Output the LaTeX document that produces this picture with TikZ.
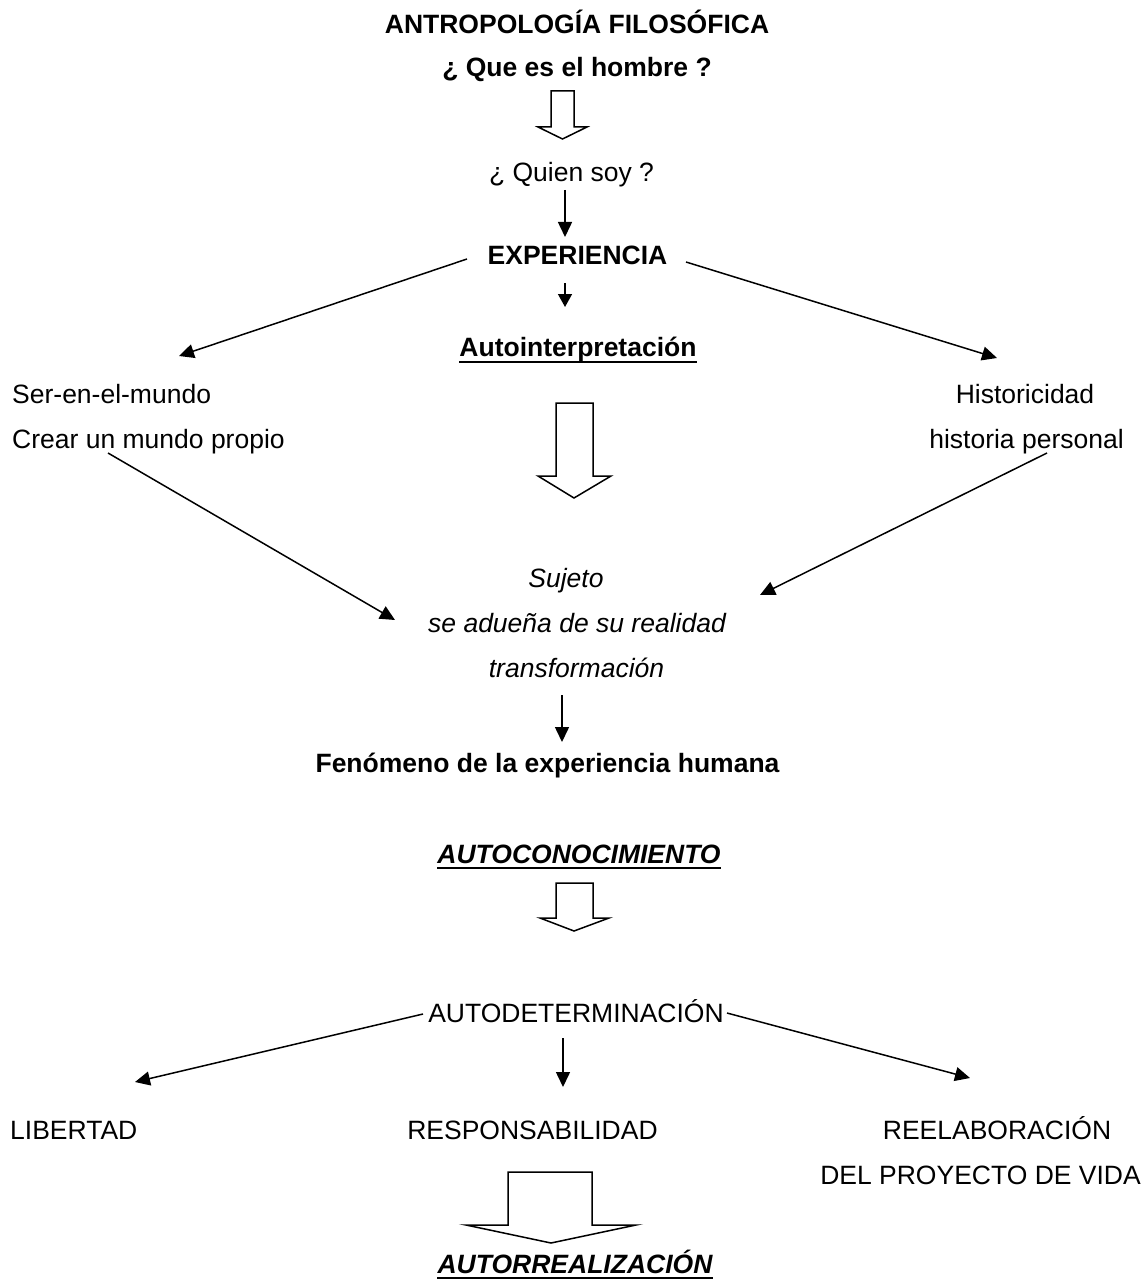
\documentclass[tikz,border=0pt]{standalone}
\usepackage{fontspec}
\setmainfont{Liberation Sans}
\usetikzlibrary{arrows.meta}
\begin{document}
\begin{tikzpicture}[x=1pt,y=-1pt,
  txt/.style={inner sep=0pt,anchor=base,font=\fontsize{26.5}{30}\selectfont},
  btxt/.style={txt,font=\fontsize{26.5}{30}\selectfont\bfseries},
  itxt/.style={txt,font=\fontsize{26.5}{30}\selectfont\itshape},
  bitxt/.style={txt,font=\fontsize{26.5}{30}\selectfont\bfseries\itshape},
  conn/.style={line width=1.5pt,-{Triangle[length=15pt,width=14pt]}},
  openarrow/.style={line width=1.5pt,line join=miter,fill=white},
  uline/.style={line width=2.4pt}]
\useasboundingbox (0,0) rectangle (1143,1281);
% texts
\node[btxt] (title) at (577,34) {ANTROPOLOGÍA FILOSÓFICA};
\node[btxt] (que) at (577,77) {¿ Que es el hombre ?};
\node[txt] (quien) at (571.5,182) {¿ Quien soy ?};
\node[btxt] (exp) at (577.5,264) {EXPERIENCIA};
\node[btxt] (auto) at (578,356) {Autointerpretación};
\node[txt,anchor=base west] (ser) at (12,403) {Ser-en-el-mundo};
\node[txt,anchor=base west] (crear) at (12,448) {Crear un mundo propio};
\node[txt] (hist) at (1025,403) {Historicidad};
\node[txt] (histp) at (1026.5,448) {historia personal};
\node[itxt] (sujeto) at (566,587) {Sujeto};
\node[itxt] (adue) at (577,632) {se adueña de su realidad};
\node[itxt] (transf) at (576.5,677) {transformación};
\node[btxt] (fen) at (547.5,772) {Fenómeno de la experiencia humana};
\node[bitxt] (autocon) at (579,863) {AUTOCONOCIMIENTO};
\node[txt] (autodet) at (576,1022) {AUTODETERMINACIÓN};
\node[txt,anchor=base west] (lib) at (10,1139) {LIBERTAD};
\node[txt] (resp) at (532.5,1139) {RESPONSABILIDAD};
\node[txt] (reel) at (997,1139) {REELABORACIÓN};
\node[txt,anchor=base east] (proy) at (1141,1184) {DEL PROYECTO DE VIDA};
\node[bitxt] (autorr) at (575,1273) {AUTORREALIZACIÓN};
% underlines
\draw[uline] ([yshift=-6pt]auto.base west) -- ([yshift=-6pt]auto.base east);
\draw[uline] ([yshift=-5pt]autocon.base west) -- ([yshift=-5pt]autocon.base east);
\draw[uline] ([yshift=-5pt]autorr.base west) -- ([yshift=-5pt]autorr.base east);
% coordinates for connector ends
\coordinate (q1) at (565,190);
\coordinate (q2) at (565,237);
\coordinate (e1) at (467,259);
\coordinate (e2) at (179,356);
\coordinate (e3) at (686,262);
\coordinate (e4) at (997,358);
\coordinate (e5) at (565,283);
\coordinate (e6) at (565,307);
\coordinate (c1) at (108,453);
\coordinate (c2) at (395,620);
\coordinate (h1) at (1047,453);
\coordinate (h2) at (760,595);
\coordinate (t1) at (562,695);
\coordinate (t2) at (562,742);
\coordinate (d1) at (423,1014);
\coordinate (d2) at (135,1082);
\coordinate (d3) at (727,1013);
\coordinate (d4) at (970,1078);
\coordinate (d5) at (563,1038);
\coordinate (d6) at (563,1087);
% connectors
\draw[conn] (q1) -- (q2);
\draw[conn] (e1) -- (e2);
\draw[conn] (e3) -- (e4);
\draw[line width=1.5pt,-{Triangle[length=13pt,width=14pt]}] (e5) -- (e6);
\draw[conn] (c1) -- (c2);
\draw[conn] (h1) -- (h2);
\draw[conn] (t1) -- (t2);
\draw[conn] (d1) -- (d2);
\draw[conn] (d3) -- (d4);
\draw[conn] (d5) -- (d6);
% open block arrows
\draw[openarrow] (551,91) -- (574,91) -- (574,127) -- (587,127) -- (562.5,139) -- (538,127) -- (551,127) -- cycle;
\draw[openarrow] (556,403) -- (593,403) -- (593,476) -- (611,476) -- (574,498) -- (538,476) -- (556,476) -- cycle;
\draw[openarrow] (556,883) -- (593,883) -- (593,918) -- (609,918) -- (574,931) -- (540,918) -- (556,918) -- cycle;
\draw[openarrow] (508,1172) -- (592,1172) -- (592,1225) -- (636,1225) -- (551,1243) -- (466,1225) -- (508,1225) -- cycle;
\end{tikzpicture}
\end{document}
